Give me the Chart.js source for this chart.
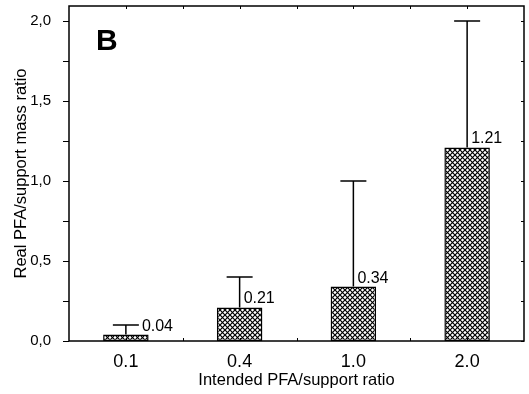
<!DOCTYPE html>
<html>
<head>
<meta charset="utf-8">
<script src="https://cdn.jsdelivr.net/npm/chart.js@4/dist/chart.umd.min.js"></script>
<style>
  html, body { margin: 0; padding: 0; background: #fff; }
  #wrap { width: 529px; height: 394px; }
</style>
</head>
<body>
<div id="wrap"><canvas id="myChart" width="529" height="394"></canvas></div>
<script>
// data
const categories = ["0.1", "0.4", "1.0", "2.0"];
const realRatio = [0.04, 0.21, 0.34, 1.21];
const errorTop = [0.10, 0.40, 1.00, 2.00];
const yTickValues = [0, 0.25, 0.5, 0.75, 1.0, 1.25, 1.5, 1.75, 2.0];
const yMax = 2.094;

const FONT = "'Liberation Sans', Arial, sans-serif";

// crosshatch fill like the original
function makeHatch() {
  const c = document.createElement("canvas");
  c.width = 5;
  c.height = 5;
  const g = c.getContext("2d");
  g.fillStyle = "#fff";
  g.fillRect(0, 0, 5, 5);
  g.strokeStyle = "#000";
  g.lineWidth = 1.2;
  g.beginPath();
  g.moveTo(-1, -1); g.lineTo(6, 6);
  g.moveTo(-1, 6); g.lineTo(6, -1);
  g.stroke();
  return document.getElementById("myChart").getContext("2d").createPattern(c, "repeat");
}

const framePlugin = {
  id: "frame",
  afterDatasetsDraw(chart) {
    const ctx = chart.ctx;
    const area = chart.chartArea;
    const x = chart.scales.x;
    const y = chart.scales.y;
    const bars = chart.getDatasetMeta(0).data;
    ctx.save();
    ctx.strokeStyle = "#000";
    ctx.lineWidth = 1.5;

    // error bars (upper only)
    bars.forEach((bar, i) => {
      const top = y.getPixelForValue(errorTop[i]);
      ctx.beginPath();
      ctx.moveTo(bar.x, bar.y);
      ctx.lineTo(bar.x, top);
      ctx.moveTo(bar.x - 13, top);
      ctx.lineTo(bar.x + 13, top);
      ctx.stroke();
    });

    // value labels, moved past the cap when the cap is low
    ctx.fillStyle = "#000";
    ctx.font = "16px " + FONT;
    ctx.textAlign = "left";
    ctx.textBaseline = "alphabetic";
    bars.forEach((bar, i) => {
      const top = y.getPixelForValue(errorTop[i]);
      const dx = top > bar.y - 22 ? 16 : 4;
      ctx.fillText(realRatio[i].toFixed(2), bar.x + dx, bar.y - 4);
    });

    // frame
    ctx.lineWidth = 1.5;
    ctx.strokeRect(area.left, area.top, area.right - area.left, area.bottom - area.top);

    // ticks: left outward, right inward
    ctx.lineWidth = 1;
    yTickValues.forEach(v => {
      const py = Math.round(y.getPixelForValue(v)) + 0.5;
      ctx.beginPath();
      ctx.moveTo(area.left - 6, py);
      ctx.lineTo(area.left, py);
      ctx.moveTo(area.right - 3, py);
      ctx.lineTo(area.right, py);
      ctx.stroke();
    });
    // top and bottom: at category centres and between them
    for (let k = 0; k <= categories.length * 2; k++) {
      const px = Math.round(x.getPixelForValue(k / 2 - 0.5)) + 0.5;
      if (px <= area.left + 1 || px >= area.right - 1) continue;
      ctx.beginPath();
      ctx.moveTo(px, area.top);
      ctx.lineTo(px, area.top + 3);
      ctx.moveTo(px, area.bottom);
      ctx.lineTo(px, area.bottom - 3);
      ctx.stroke();
    }

    // panel letter
    ctx.font = "bold 30px " + FONT;
    ctx.fillText("B", 96, 50);
    ctx.restore();
  }
};

const chartData = {
  labels: categories,
  datasets: [
    {
      label: "Real PFA/support mass ratio",
      data: realRatio,
      backgroundColor: makeHatch(),
      borderColor: "#000",
      borderWidth: 1.5,
      borderSkipped: false,
      barPercentage: 0.4,
      categoryPercentage: 1.0,
    },
  ],
};

const config = {
  type: "bar",
  data: chartData,
  options: {
    responsive: false,
    animation: false,
    devicePixelRatio: 1,
    layout: { padding: { top: 6, right: 5, left: 0, bottom: 0 } },
    plugins: {
      legend: { display: false },
      tooltip: { enabled: false },
    },
    scales: {
      x: {
        offset: true,
        grid: { display: false },
        border: { display: false },
        ticks: { color: "#000", font: { family: FONT, size: 18 }, padding: 2 },
        title: {
          display: true,
          text: "Intended PFA/support ratio",
          color: "#000",
          font: { family: FONT, size: 16.5 },
          padding: { top: 0, bottom: 4 },
        },
        afterFit(scale) {
          scale.height = 53;
          scale.paddingLeft = 0;
          scale.paddingRight = 0;
        },
      },
      y: {
        min: 0,
        max: yMax,
        grid: { display: false },
        border: { display: false },
        afterBuildTicks(scale) {
          scale.ticks = yTickValues.map(v => ({ value: v }));
        },
        ticks: {
          color: "#000",
          font: { family: FONT, size: 15 },
          padding: 10,
          autoSkip: false,
          callback: v => (Math.abs(v * 2 - Math.round(v * 2)) < 1e-6 ? v.toFixed(1).replace(".", ",") : ""),
        },
        title: {
          display: true,
          text: "Real PFA/support mass ratio",
          color: "#000",
          font: { family: FONT, size: 16.5 },
          padding: { top: 12, bottom: 0 },
        },
        afterFit(scale) {
          scale.width = 69;
          scale.paddingTop = 0;
          scale.paddingBottom = 0;
        },
      },
    },
  },
  plugins: [framePlugin],
};

const myChart = new Chart(document.getElementById("myChart"), config);
</script>
</body>
</html>
